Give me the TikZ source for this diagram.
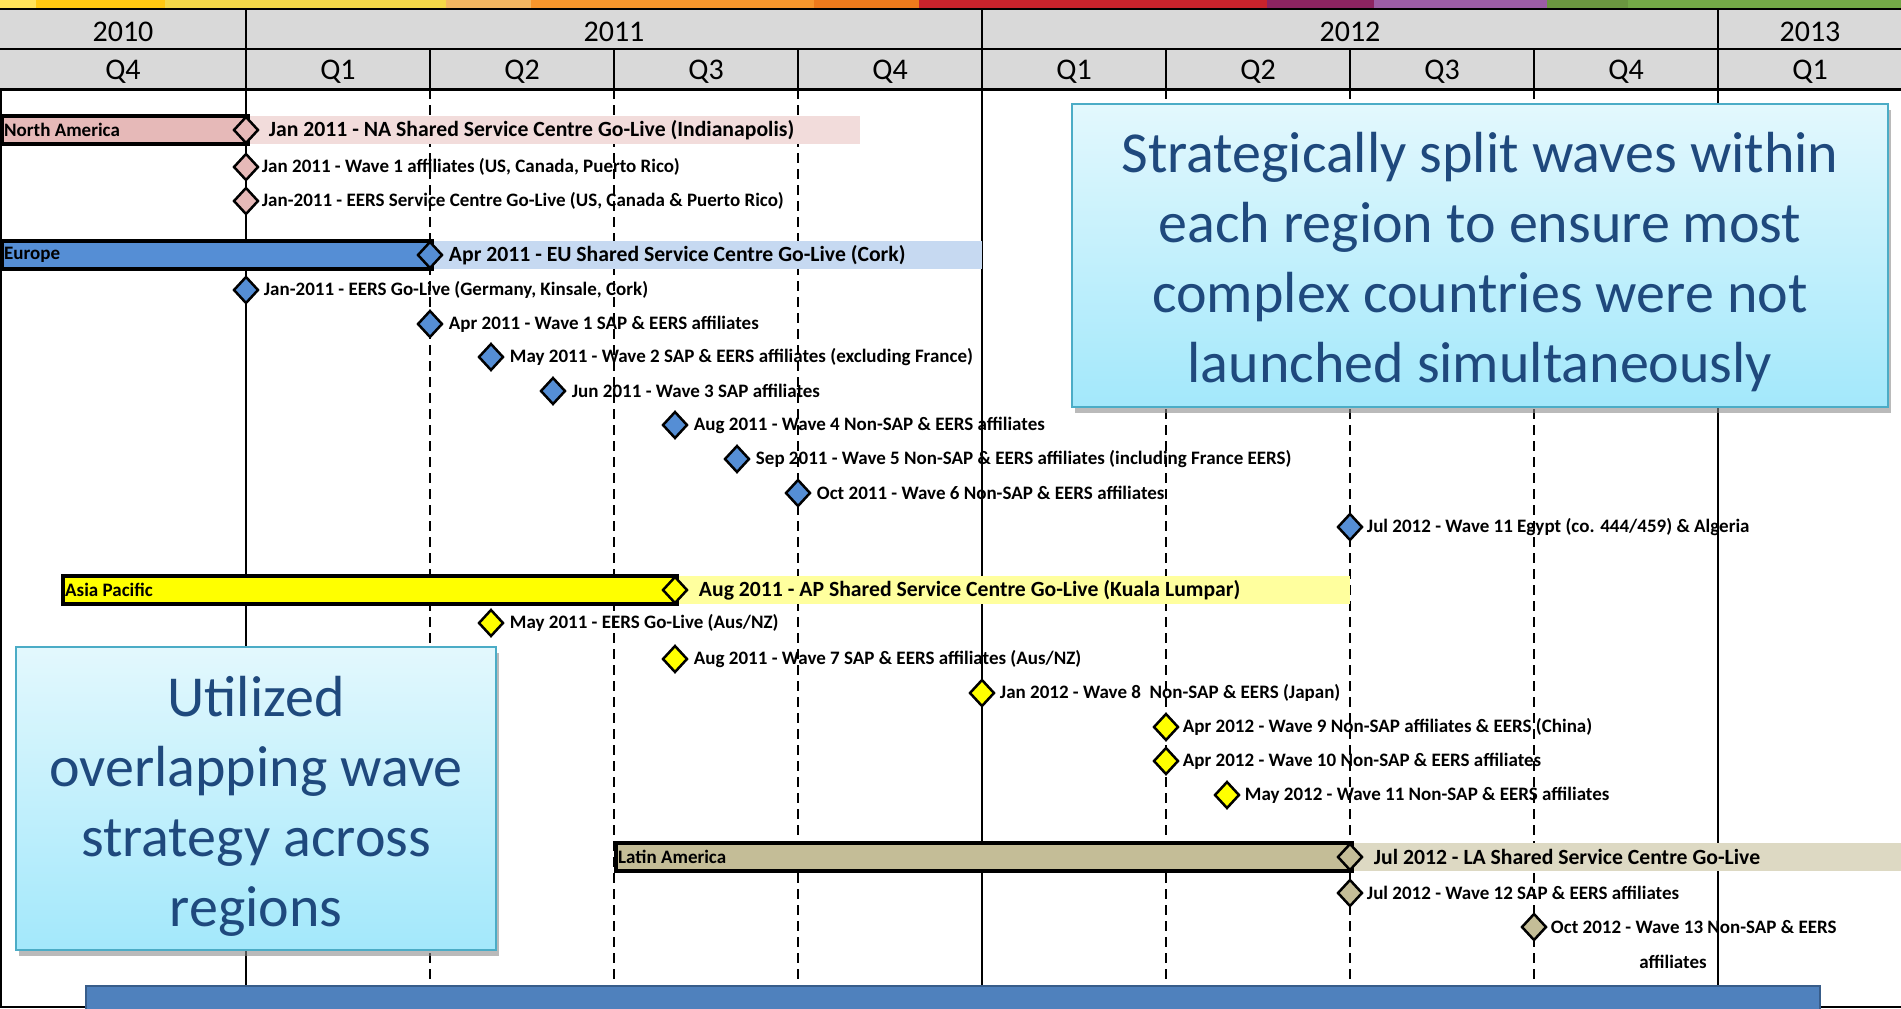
\documentclass[tikz,border=0pt]{standalone}
\usepackage{fontspec}
\setmainfont{Carlito}
\usetikzlibrary{shapes.geometric,shadows,positioning}

\definecolor{hdrgray}{HTML}{D9D9D9}
\definecolor{nafill}{HTML}{E6B9B8}
\definecolor{naext}{HTML}{F2DCDB}
\definecolor{eufill}{HTML}{558ED5}
\definecolor{euext}{HTML}{C6D9F1}
\definecolor{apfill}{HTML}{FFFF00}
\definecolor{apext}{HTML}{FFFF9E}
\definecolor{lafill}{HTML}{C4BD97}
\definecolor{laext}{HTML}{DDD9C3}
\definecolor{boxtop}{HTML}{E3F8FD}
\definecolor{boxbot}{HTML}{A3E8FB}
\definecolor{boxline}{HTML}{4BACC6}
\definecolor{boxtext}{HTML}{1F497D}
\definecolor{footblue}{HTML}{4F81BD}
\definecolor{footline}{HTML}{385D8A}
\definecolor{sYa}{HTML}{FFE35A}
\definecolor{sYb}{HTML}{FFC812}
\definecolor{sYc}{HTML}{F4D848}
\definecolor{sOa}{HTML}{F3B761}
\definecolor{sOb}{HTML}{F7962C}
\definecolor{sOc}{HTML}{EE7A1C}
\definecolor{sRed}{HTML}{C8232C}
\definecolor{sPa}{HTML}{8C2461}
\definecolor{sPb}{HTML}{9C5DA5}
\definecolor{sGa}{HTML}{6B9640}
\definecolor{sGb}{HTML}{74A847}

\begin{document}
\begin{tikzpicture}[x=1pt,y=-1pt]

% definitions
\tikzstyle{hdrtext} = [inner sep=0pt, font=\fontsize{30}{34}\selectfont]
\tikzstyle{hdrline} = [line width=2pt]
\tikzstyle{yearline} = [line width=2pt]
\tikzstyle{qline} = [line width=1.6pt, dash pattern=on 10pt off 6pt]
\tikzstyle{extbar} = [rectangle, minimum height=28pt, inner sep=0pt, anchor=west]
\tikzstyle{regionbar} = [rectangle, draw=black, line width=3.5pt, minimum height=28pt, inner sep=0pt, anchor=west]
\tikzstyle{regiontext} = [inner sep=4pt, anchor=west, font=\bfseries\fontsize{19}{22}\selectfont]
\tikzstyle{milestone} = [diamond, draw=black, line width=2.5pt, minimum width=25pt, minimum height=27pt, inner sep=0pt]
\tikzstyle{itemtext} = [inner sep=0pt, anchor=west, font=\bfseries\fontsize{19}{22}\selectfont]
\tikzstyle{golive} = [inner sep=0pt, anchor=west, font=\bfseries\fontsize{21.7}{25}\selectfont]
\tikzstyle{notebox} = [rectangle, draw=boxline, line width=2pt, top color=boxtop, bottom color=boxbot, text=boxtext, align=center, font=\fontsize{58}{70}\selectfont, drop shadow={shadow xshift=3pt, shadow yshift=-6pt, fill=black!45, opacity=0.6}]

\useasboundingbox (0,0) rectangle (1901,1009);
\clip (0,0) rectangle (1901,1009);

% colour stripe
\fill[sYa] (0,0) rectangle (36,9);
\fill[sYb] (36,0) rectangle (165,9);
\fill[sYc] (165,0) rectangle (446,9);
\fill[sOa] (446,0) rectangle (531,9);
\fill[sOb] (531,0) rectangle (814,9);
\fill[sOc] (814,0) rectangle (919,9);
\fill[sRed] (919,0) rectangle (1267,9);
\fill[sPa] (1267,0) rectangle (1374,9);
\fill[sPb] (1374,0) rectangle (1547,9);
\fill[sGa] (1547,0) rectangle (1628,9);
\fill[sGb] (1628,0) rectangle (1901,9);

% header
\fill[hdrgray] (0,9) rectangle (1901,89);
\draw[hdrline] (0,9) -- (1901,9);
\draw[hdrline] (0,49) -- (1901,49);
\draw[line width=3pt] (0,89) -- (1901,89);
\draw[hdrline] (430,49) -- (430,89);
\draw[hdrline] (614,49) -- (614,89);
\draw[hdrline] (798,49) -- (798,89);
\draw[hdrline] (1166,49) -- (1166,89);
\draw[hdrline] (1350,49) -- (1350,89);
\draw[hdrline] (1534,49) -- (1534,89);

\node (y2010) [hdrtext] at (123,32) {2010};
\node (y2011) [hdrtext] at (614,32) {2011};
\node (y2012) [hdrtext] at (1350,32) {2012};
\node (y2013) [hdrtext] at (1810,32) {2013};

\node (q410) [hdrtext] at (123,72) {Q4};
\node (q111) [hdrtext] at (338,72) {Q1};
\node (q211) [hdrtext] at (522,72) {Q2};
\node (q311) [hdrtext] at (706,72) {Q3};
\node (q411) [hdrtext] at (890,72) {Q4};
\node (q112) [hdrtext] at (1074,72) {Q1};
\node (q212) [hdrtext] at (1258,72) {Q2};
\node (q312) [hdrtext] at (1442,72) {Q3};
\node (q412) [hdrtext] at (1626,72) {Q4};
\node (q113) [hdrtext] at (1810,72) {Q1};

% grid
\draw[yearline] (1,89) -- (1,1007);
\draw[yearline] (0,1007) -- (1901,1007);
\draw[yearline] (246,9) -- (246,1007);
\draw[yearline] (982,9) -- (982,1007);
\draw[yearline] (1718,9) -- (1718,1007);
\draw[qline] (430,89) -- (430,1007);
\draw[qline] (614,89) -- (614,1007);
\draw[qline] (798,89) -- (798,1007);
\draw[qline] (1166,89) -- (1166,1007);
\draw[qline] (1350,89) -- (1350,1007);
\draw[qline] (1534,89) -- (1534,1007);

% North America
\node (naext) [extbar, fill=naext, minimum width=614pt] at (246,130) {};

\node (nabar) [regionbar, fill=nafill, minimum width=246pt] at (0,130) {};

\node (nalbl) [regiontext, right=0pt of nabar.west] {North America};

\node (na) [milestone, fill=nafill] at (246,130) {};

\node (natext) [golive, right=9pt of na] {Jan 2011 - NA Shared Service Centre Go-Live (Indianapolis)};

\node (na1) [milestone, fill=nafill] at (246,167) {};

\node (na1text) [itemtext, right=2pt of na1] {Jan 2011 - Wave 1 affiliates (US, Canada, Puerto Rico)};

\node (na2) [milestone, fill=nafill] at (246,201) {};

\node (na2text) [itemtext, right=2pt of na2] {Jan-2011 - EERS Service Centre Go-Live (US, Canada \& Puerto Rico)};

% Europe
\node (euext) [extbar, fill=euext, minimum width=552pt] at (430,255) {};

\node (eubar) [regionbar, fill=eufill, minimum width=430pt] at (0,255) {};

\node (eulbl) [regiontext, right=0pt of eubar.west] {Europe};

\node (eu) [milestone, fill=eufill] at (430,255) {};

\node (eutext) [golive, right=5pt of eu] {Apr 2011 - EU Shared Service Centre Go-Live (Cork)};

\node (eu1) [milestone, fill=eufill] at (246,290) {};

\node (eu1text) [itemtext, right=4pt of eu1] {Jan-2011 - EERS Go-Live (Germany, Kinsale, Cork)};

\node (eu2) [milestone, fill=eufill] at (430,324) {};

\node (eu2text) [itemtext, right=5pt of eu2] {Apr 2011 - Wave 1 SAP \& EERS affiliates};

\node (eu3) [milestone, fill=eufill] at (491,357) {};

\node (eu3text) [itemtext, right=5pt of eu3] {May 2011 - Wave 2 SAP \& EERS affiliates (excluding France)};

\node (eu4) [milestone, fill=eufill] at (553,391) {};

\node (eu4text) [itemtext, right=5pt of eu4] {Jun 2011 - Wave 3 SAP affiliates};

\node (eu5) [milestone, fill=eufill] at (675,425) {};

\node (eu5text) [itemtext, right=5pt of eu5] {Aug 2011 - Wave 4 Non-SAP \& EERS affiliates};

\node (eu6) [milestone, fill=eufill] at (737,459) {};

\node (eu6text) [itemtext, right=5pt of eu6] {Sep 2011 - Wave 5 Non-SAP \& EERS affiliates (including France EERS)};

\node (eu7) [milestone, fill=eufill] at (798,493) {};

\node (eu7text) [itemtext, right=5pt of eu7] {Oct 2011 - Wave 6 Non-SAP \& EERS affiliates};

\node (eu8) [milestone, fill=eufill] at (1350,527) {};

\node (eu8text) [itemtext, right=3pt of eu8] {Jul 2012 - Wave 11 Egypt (co. 444/459) \& Algeria};

% Asia Pacific
\node (apext) [extbar, fill=apext, minimum width=675pt] at (675,590) {};

\node (apbar) [regionbar, fill=apfill, minimum width=614pt] at (61,590) {};

\node (aplbl) [regiontext, right=0pt of apbar.west] {Asia Pacific};

\node (ap) [milestone, fill=apfill] at (675,590) {};

\node (aptext) [golive, right=10pt of ap] {Aug 2011 - AP Shared Service Centre Go-Live (Kuala Lumpar)};

\node (ap1) [milestone, fill=apfill] at (491,623) {};

\node (ap1text) [itemtext, right=5pt of ap1] {May 2011 - EERS Go-Live (Aus/NZ)};

\node (ap2) [milestone, fill=apfill] at (675,659) {};

\node (ap2text) [itemtext, right=5pt of ap2] {Aug 2011 - Wave 7 SAP \& EERS affiliates (Aus/NZ)};

\node (ap3) [milestone, fill=apfill] at (982,693) {};

\node (ap3text) [itemtext, right=4pt of ap3] {Jan 2012 - Wave 8 \ Non-SAP \& EERS (Japan)};

\node (ap4) [milestone, fill=apfill] at (1166,727) {};

\node (ap4text) [itemtext, right=3pt of ap4] {Apr 2012 - Wave 9 Non-SAP affiliates \& EERS (China)};

\node (ap5) [milestone, fill=apfill] at (1166,761) {};

\node (ap5text) [itemtext, right=3pt of ap5] {Apr 2012 - Wave 10 Non-SAP \& EERS affiliates};

\node (ap6) [milestone, fill=apfill] at (1227,795) {};

\node (ap6text) [itemtext, right=4pt of ap6] {May 2012 - Wave 11 Non-SAP \& EERS affiliates};

% Latin America
\node (laext) [extbar, fill=laext, minimum width=551pt] at (1350,857) {};

\node (labar) [regionbar, fill=lafill, minimum width=736pt] at (614,857) {};

\node (lalbl) [regiontext, right=0pt of labar.west] {Latin America};

\node (la) [milestone, fill=lafill] at (1350,857) {};

\node (latext) [golive, right=10pt of la] {Jul 2012 - LA Shared Service Centre Go-Live};

\node (la1) [milestone, fill=lafill] at (1350,893) {};

\node (la1text) [itemtext, right=3pt of la1] {Jul 2012 - Wave 12 SAP \& EERS affiliates};

\node (la2) [milestone, fill=lafill] at (1534,927) {};

\node (la2text) [itemtext, right=3pt of la2] {Oct 2012 - Wave 13 Non-SAP \& EERS};

\node (la2more) [itemtext, anchor=center] at (1673,962) {affiliates};

% call-outs
\node (split) [notebox, minimum width=816pt, minimum height=303pt] at (1480,255) {\rule{0pt}{54pt}Strategically split waves within\\each region to ensure most\\complex countries were not\\launched simultaneously};

\node (overlap) [notebox, minimum width=480pt, minimum height=303pt] at (256,798) {\rule{0pt}{56pt}Utilized\\overlapping wave\\strategy across\\regions};

\node (foot) [rectangle, draw=footline, line width=2pt, fill=footblue, minimum width=1734pt, minimum height=60pt, anchor=north west] at (85,985) {};

\end{tikzpicture}
\end{document}
